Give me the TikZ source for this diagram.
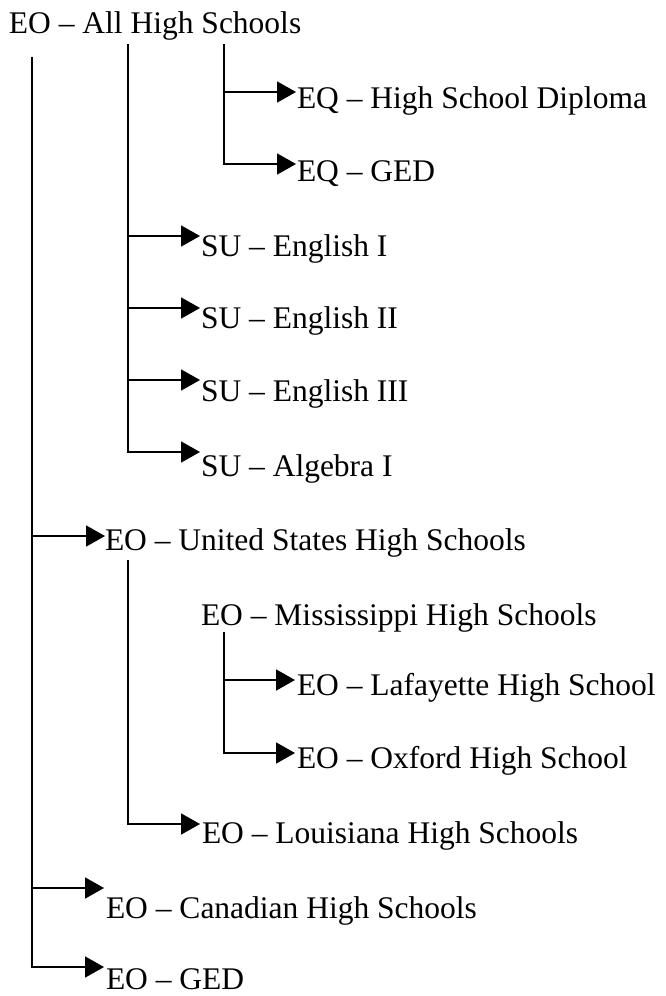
\documentclass[tikz,border=0pt]{standalone}
\usepackage{fontspec}
\setmainfont{Liberation Serif}
\usetikzlibrary{arrows.meta}
\begin{document}
\begin{tikzpicture}[x=1pt,y=-1pt,
  lbl/.style={anchor=base west,inner sep=0pt,outer sep=0pt,font=\fontsize{31.5}{36}\selectfont},
  link/.style={line width=1.8pt,black},
  arr/.style={link,-{Triangle[length=19pt,width=21pt]}}]
\useasboundingbox (0,0) rectangle (665,996);
% texts
\node[lbl] (all)  at (9,33)   {EO – All High Schools};
\node[lbl] (eq1)  at (297,108){EQ – High School Diploma};
\node[lbl] (eq2)  at (297,181){EQ – GED};
\node[lbl] (su1)  at (201,256){SU – English I};
\node[lbl] (su2)  at (201,328){SU – English II};
\node[lbl] (su3)  at (201,401){SU – English III};
\node[lbl] (su4)  at (201,476){SU – Algebra I};
\node[lbl] (us)   at (105,550){EO – United States High Schools};
\node[lbl] (ms)   at (201,625){EO – Mississippi High Schools};
\node[lbl] (laf)  at (297,695){EO – Lafayette High School};
\node[lbl] (ox)   at (297,768){EO – Oxford High School};
\node[lbl] (la)   at (202,843){EO – Louisiana High Schools};
\node[lbl] (ca)   at (106,918){EO – Canadian High Schools};
\node[lbl] (ged)  at (106,989){EO – GED};
% trunk tops
\coordinate (t0) at (32,57);
\coordinate (t1) at (128,44);
\coordinate (t2) at (224,44);
\coordinate (t3) at (128,560);
\coordinate (t4) at (224,632);
% arrow tips
\coordinate (eq1t) at (296,92);
\coordinate (eq2t) at (296,164);
\coordinate (su1t) at (200,236);
\coordinate (su2t) at (200,308);
\coordinate (su3t) at (200,380);
\coordinate (su4t) at (200,452);
\coordinate (ust)  at (105,536);
\coordinate (laft) at (295,680);
\coordinate (oxt)  at (295,753);
\coordinate (lat)  at (200,824);
\coordinate (cat)  at (104,888);
\coordinate (gedt) at (104,967);
% branch under "All High Schools" -> EQ
\draw[arr] (t2 |- eq1t) -- (eq1t);
\draw[arr] (t2) |- (eq2t);
% SU
\draw[arr] (t1 |- su1t) -- (su1t);
\draw[arr] (t1 |- su2t) -- (su2t);
\draw[arr] (t1 |- su3t) -- (su3t);
\draw[arr] (t1) |- (su4t);
% main trunk
\draw[arr] (t0 |- ust) -- (ust);
\draw[arr] (t0 |- cat) -- (cat);
\draw[arr] (t0) |- (gedt);
% under US
\draw[arr] (t3) |- (lat);
% under Mississippi
\draw[arr] (t4 |- laft) -- (laft);
\draw[arr] (t4) |- (oxt);
\end{tikzpicture}
\end{document}
